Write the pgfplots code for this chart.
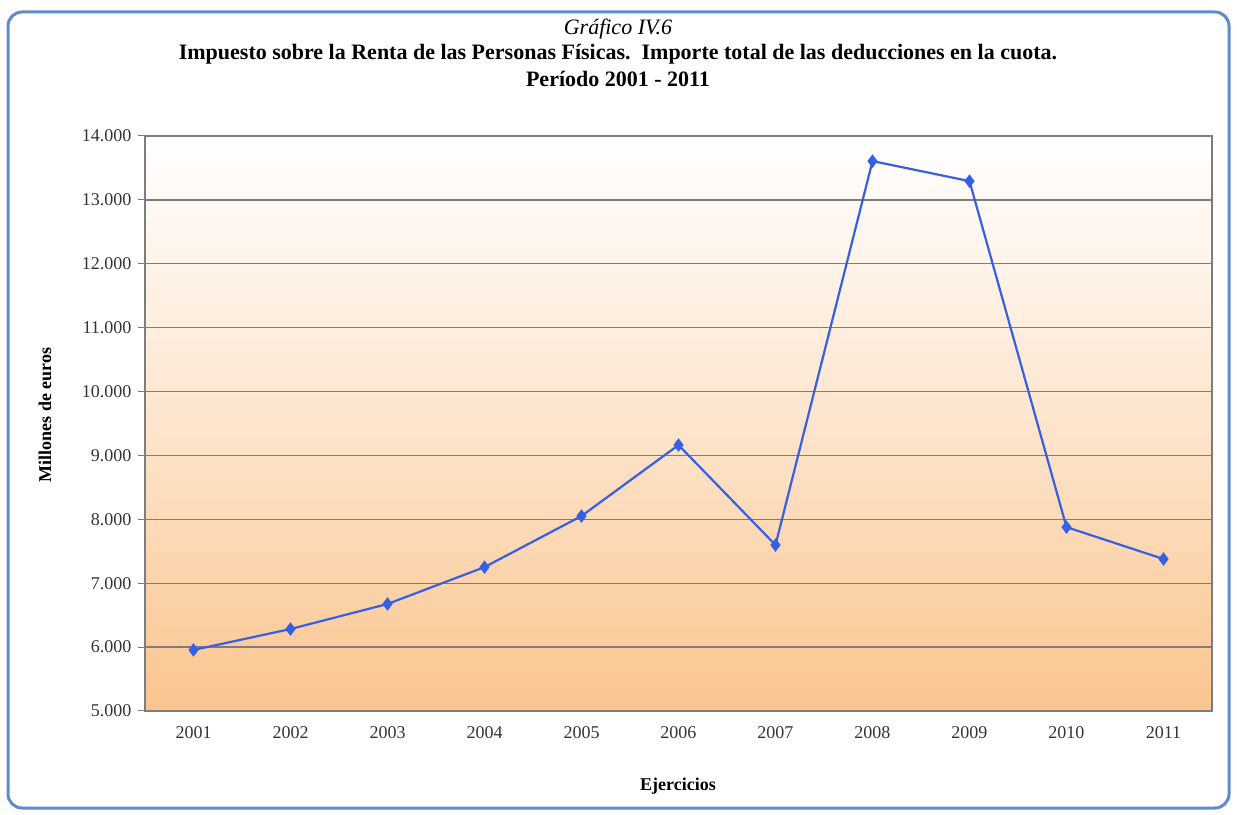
\documentclass[border=0pt]{standalone}
\usepackage{pgfplots}
\pgfplotsset{compat=1.18}
\usepackage{fontspec}
\setmainfont{Liberation Serif}
\definecolor{frameblue}{RGB}{95,140,200}
\definecolor{lineblue}{RGB}{55,95,228}
\definecolor{bgorange}{RGB}{250,197,143}
\definecolor{gridgray}{RGB}{125,125,125}
\begin{document}
\begin{tikzpicture}[x=1pt,y=1pt]
\useasboundingbox (0,0) rectangle (1237,814);
\draw[frameblue, line width=3pt, rounded corners=14pt] (8,6) rectangle (1229,802);
\node[font=\fontsize{22}{24}\selectfont\itshape] at (618,785) {Gráfico IV.6};
\node[font=\fontsize{22}{24}\selectfont\bfseries] at (618,760) {Impuesto sobre la Renta de las Personas Físicas.\ \ Importe total de las deducciones en la cuota.};
\node[font=\fontsize{22}{24}\selectfont\bfseries] at (618,735) {Período 2001 - 2011};
\node[font=\fontsize{18}{20}\selectfont\bfseries, rotate=90] at (45,399) {Millones de euros};
\node[font=\fontsize{18}{20}\selectfont\bfseries] at (678,28) {Ejercicios};
\begin{axis}[
  at={(145pt,103pt)}, anchor=south west,
  width=1067pt, height=575pt, scale only axis,
  xmin=-0.5, xmax=10.5, ymin=5000, ymax=14000,
  ytick={5000,6000,...,14000},
  scaled y ticks=false,
  xtick={0,...,10},
  xticklabels={2001,2002,2003,2004,2005,2006,2007,2008,2009,2010,2011},
  xtick pos=bottom, ytick pos=left,
  major x tick style={draw=none},
  extra x ticks={-0.5,0.5,...,10.5},
  extra x tick labels={},
  extra x tick style={major tick length=7pt, tick style={draw=gridgray, line width=1pt}},
  tick align=outside,
  major tick length=7pt,
  y tick style={draw=gridgray, line width=1pt},
  ymajorgrids,
  grid style={gridgray, line width=1.3pt},
  axis line style={gridgray, line width=1.2pt},
  /pgf/number format/.cd, 1000 sep={.}, assume math mode=true,
  /pgfplots/.cd,
  tick label style={font=\fontsize{18}{20}\selectfont, text=black!80},
  xticklabel style={yshift=-5pt},
  yticklabel style={xshift=-3pt},
  axis background/.style={top color=white, bottom color=bgorange, middle color=bgorange!45},
]
\addplot[lineblue, line width=2.2pt, mark=diamond*, mark size=5pt, mark options={fill=lineblue}] coordinates {
(0,5955) (1,6283) (2,6675) (3,7252) (4,8052) (5,9163) (6,7598) (7,13607) (8,13294) (9,7878) (10,7379)
};
\end{axis}
\end{tikzpicture}
\end{document}
